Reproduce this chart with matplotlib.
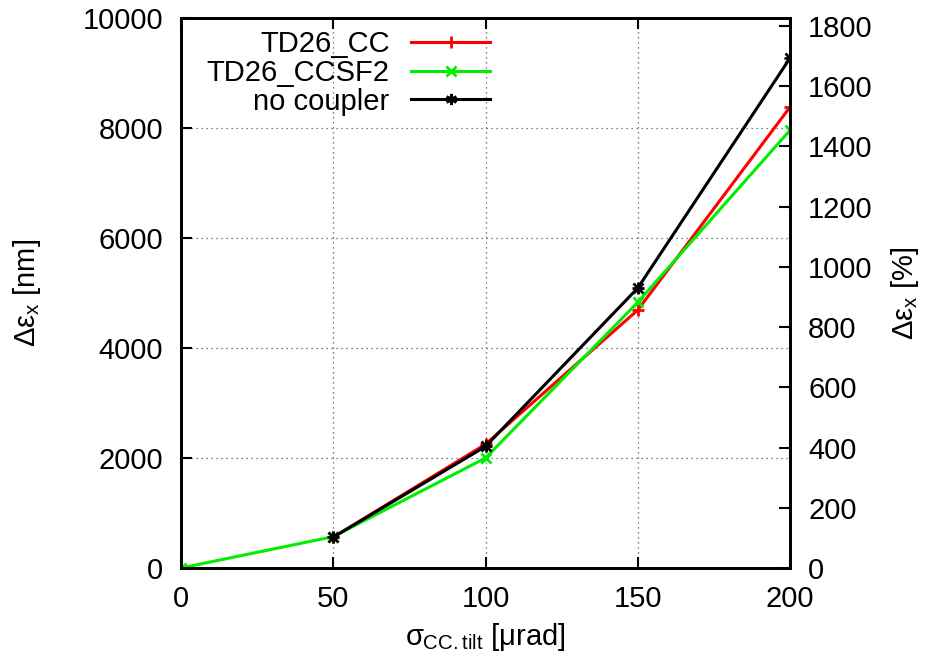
import matplotlib.pyplot as plt
from matplotlib.lines import Line2D

plt.rcParams['font.family'] = ['Liberation Sans', 'DejaVu Sans']
plt.rcParams['mathtext.fontset'] = 'custom'
plt.rcParams['mathtext.rm'] = 'Liberation Sans'
plt.rcParams['mathtext.it'] = 'Liberation Sans'
plt.rcParams['font.size'] = 21

# data
x_cc = [50, 100, 150, 200]
td26_cc = [560, 2250, 4690, 8380]
x_sf2 = [0, 50, 100, 150, 200]
td26_ccsf2 = [0, 570, 2000, 4830, 7960]
x_noc = [50, 100, 150, 200]
no_coupler = [560, 2210, 5090, 9270]

xticks = [0, 50, 100, 150, 200]
yticks = [0, 2000, 4000, 6000, 8000, 10000]
y2ticks = list(range(0, 1801, 200))

fig = plt.figure(figsize=(9.45, 6.59), dpi=100)
ax = fig.add_axes([181/945, 1-568/659, (790-181)/945, (568-18)/659])

lw = 2.2
ax.plot(x_cc, td26_cc, color='red', lw=lw, marker='+', ms=9, mew=2)
ax.plot(x_sf2, td26_ccsf2, color='#00ee00', lw=lw, marker='x', ms=7, mew=2)
ax.plot(x_noc, no_coupler, color='black', lw=lw, marker='x', ms=7, mew=2)
ax.plot(x_noc, no_coupler, color='black', lw=0, marker='+', ms=9, mew=2)

ax.set_xlim(0, 200)
ax.set_ylim(0, 10000)
ax.set_xticks(xticks)
ax.set_yticks(yticks)
ax.grid(True, color='#555555', linestyle=(0, (1, 3)), lw=0.9)
ax.tick_params(direction='in', length=8, width=1.5, top=True, right=False)
ax.tick_params(axis='y', pad=13)
ax.tick_params(axis='x', pad=12)
for s in ax.spines.values():
    s.set_linewidth(2)

ax.set_xlabel(r'$\sigma_{\rm CC.tilt}$ [$\mu$rad]', labelpad=6)
ax.set_ylabel(r'$\Delta\varepsilon_{\rm x}$ [nm]', labelpad=28)

ax2 = ax.twinx()
ax2.set_ylim(0, 1826)
ax2.set_yticks(y2ticks)
ax2.tick_params(direction='in', length=8, width=1.5, pad=13)
ax2.set_ylabel(r'$\Delta\varepsilon_{\rm x}$ [%]', labelpad=12)
for s in ax2.spines.values():
    s.set_linewidth(2)

handles = [
    Line2D([], [], color='red', lw=lw, marker='+', ms=9, mew=2),
    Line2D([], [], color='#00ee00', lw=lw, marker='x', ms=7, mew=2),
    Line2D([], [], color='black', lw=lw, marker=(6, 2, 0), ms=8, mew=2),
]
ax.legend(handles, ['TD26_CC', 'TD26_CCSF2', 'no coupler'], loc='upper left',
          bbox_to_anchor=(0.018, 1.005), frameon=False, markerfirst=False,
          handlelength=2.7, labelspacing=0.03, handletextpad=0.75, borderaxespad=0.1)

fig.savefig('out.png', dpi=100)
